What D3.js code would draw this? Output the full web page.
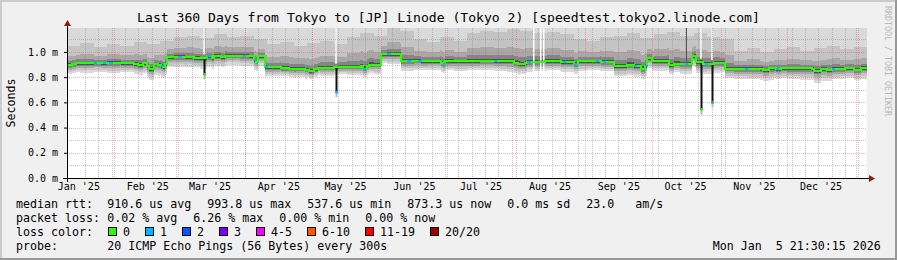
<!DOCTYPE html>
<html>
<head>
<meta charset="utf-8">
<script src="https://cdn.jsdelivr.net/npm/d3@7"></script>
<style>
  body { margin: 0; background: #f0f0f0; }
  svg text { font-family: "DejaVu Sans Mono", monospace; white-space: pre; }
</style>
</head>
<body>
<svg id="chart" width="897" height="260"></svg>
<script>
/* DATA */
const title = "Last 360 Days from Tokyo to [JP] Linode (Tokyo 2) [speedtest.tokyo2.linode.com]"
const startTime = "2025-01-10T21:30"
const endTime = "2026-01-05T21:30"

// median rtt (ms), step changes
const medianDates = ["2025-01-10","2025-01-13","2025-01-15","2025-01-26","2025-01-29","2025-02-04","2025-02-10","2025-02-12",
  "2025-02-14","2025-02-16","2025-02-17","2025-02-19","2025-02-21","2025-02-22","2025-02-23","2025-02-24","2025-02-25",
  "2025-03-05","2025-03-09","2025-03-13","2025-03-15","2025-03-17","2025-03-18","2025-03-21","2025-03-23","2025-04-03",
  "2025-04-05","2025-04-06","2025-04-07","2025-04-10","2025-04-17","2025-04-21","2025-04-24","2025-04-28","2025-04-30",
  "2025-05-02","2025-05-04","2025-05-11","2025-05-13","2025-05-23","2025-05-24","2025-05-26","2025-05-27","2025-06-01",
  "2025-06-10","2025-06-19","2025-06-28","2025-06-29","2025-06-30","2025-07-11","2025-07-25","2025-07-31","2025-08-02",
  "2025-08-05","2025-08-06","2025-08-14","2025-08-21","2025-08-27","2025-08-29","2025-09-08","2025-09-14","2025-09-20",
  "2025-09-23","2025-09-26","2025-09-28","2025-09-29","2025-10-01","2025-10-09","2025-10-11","2025-10-19","2025-10-21",
  "2025-10-24","2025-10-29","2025-11-03","2025-11-20","2025-11-23","2025-11-26","2025-11-28","2025-12-12","2025-12-13",
  "2025-12-16","2025-12-19","2025-12-21","2025-12-27","2025-12-31","2026-01-03"]
const medianMs = [0.898,0.906,0.913,0.910,0.916,0.912,0.905,0.897,
  0.910,0.885,0.868,0.905,0.900,0.889,0.880,0.905,0.962,
  0.958,0.952,0.950,0.965,0.952,0.968,0.957,0.970,0.968,
  0.935,0.923,0.965,0.878,0.872,0.865,0.868,0.858,0.847,
  0.862,0.875,0.877,0.882,0.886,0.868,0.890,0.900,0.984,
  0.931,0.928,0.915,0.907,0.928,0.929,0.927,0.915,0.905,
  0.912,0.922,0.925,0.918,0.907,0.925,0.922,0.889,0.900,
  0.890,0.868,0.890,0.952,0.926,0.894,0.907,0.968,0.917,
  0.907,0.915,0.868,0.858,0.870,0.862,0.870,0.868,0.850,
  0.866,0.855,0.868,0.872,0.860,0.873]

// smoke spread, one sample every 6 days from the start
const smokeHigh = [1.05,1.07,1.04,1.06,1.05,1.08,1.06,1.09,1.12,1.13,
  1.11,1.14,1.12,1.13,1.10,1.06,1.08,1.05,1.07,1.09,
  1.06,1.12,1.15,1.13,1.19,1.17,1.10,1.08,1.12,1.09,
  1.15,1.17,1.16,1.18,1.17,1.15,1.16,1.14,1.10,1.09,
  1.12,1.13,1.15,1.11,1.14,1.16,1.13,1.15,1.12,1.10,
  1.01,1.03,1.00,1.02,1.04,1.01,1.03,1.05,1.02,1.04]
const smokeLowDepth = [0.075,0.08,0.07,0.085,0.075,0.08,0.09,0.085,0.08,0.075,
  0.085,0.08,0.07,0.08,0.075,0.07,0.065,0.07,0.06,0.065,
  0.06,0.065,0.07,0.075,0.08,0.08,0.075,0.07,0.075,0.08,
  0.075,0.07,0.08,0.085,0.08,0.075,0.07,0.075,0.08,0.07,
  0.075,0.08,0.085,0.08,0.075,0.07,0.08,0.085,0.08,0.075,
  0.08,0.085,0.09,0.08,0.085,0.09,0.095,0.085,0.08,0.085]

// single low median samples
const spikeDates = ["2025-03-13T12:00","2025-05-12T00:00","2025-10-23T00:00","2025-10-28T00:00"]
const spikeMs = [0.817,0.677,0.538,0.595]
const spikeLoss = [0,1,0,1]

// samples with 1/20 lost
const loss1Dates = ["2025-01-23","2025-01-27","2025-01-30","2025-02-22","2025-03-02","2025-03-15","2025-03-31","2025-04-05",
  "2025-04-10","2025-05-24","2025-06-04","2025-06-13","2025-06-18","2025-06-29","2025-07-22","2025-08-06","2025-08-22",
  "2025-08-27","2025-09-06","2025-09-09","2025-09-23","2025-09-28","2025-10-16","2025-10-25","2025-11-12","2025-11-26",
  "2025-12-21"]

// missing data columns and a single high outlier
const gapDates = ["2025-08-08T14:00","2025-08-11T18:00","2025-08-13T02:00"]
const outlierDates = ["2025-10-16T10:00"]
const outlierMs = [1.19]

const yTicks = [0, 0.2, 0.4, 0.6, 0.8, 1.0]

const lossLabels = ["0","1","2","3","4-5","6-10","11-19","20/20"]
const lossColors = ["#26ff00","#00b8ff","#0059ff","#7e00ff","#ff00ff","#ff5500","#ff0000","#a10000"]

const rttStats = ["910.6 us avg","993.8 us max","537.6 us min","873.3 us now","0.0 ms sd","23.0   am/s"]
const lossStats = ["0.02 % avg","6.26 % max","0.00 % min","0.00 % now"]
const probeText = "20 ICMP Echo Pings (56 Bytes) every 300s"
const stampText = "Mon Jan  5 21:30:15 2026"

/* SETUP */
const W = 897, H = 260
const plot = {left: 67, right: 867, top: 28, bottom: 178}
const yMax = 1.19

const parseDay = d3.timeParse("%Y-%m-%d")
const parseTime = d3.timeParse("%Y-%m-%dT%H:%M")
const toDate = s => s.length > 10 ? parseTime(s) : parseDay(s)

const start = toDate(startTime), end = toDate(endTime)

const x = d3.scaleTime().domain([start, end]).range([plot.left, plot.right])
const y = d3.scaleLinear().domain([0, yMax]).range([plot.bottom, plot.top])

const svg = d3.select("#chart")

// background + 3d frame
svg.append("rect").attr("width", W).attr("height", H).attr("fill", "#f0f0f0")
svg.append("rect").attr("width", W).attr("height", 2).attr("fill", "#cbcbcb")
svg.append("rect").attr("width", 2).attr("height", H).attr("fill", "#cbcbcb")
svg.append("rect").attr("y", H - 2).attr("width", W).attr("height", 2).attr("fill", "#999")
svg.append("rect").attr("x", W - 2).attr("width", 2).attr("height", H).attr("fill", "#999")

svg.append("rect")
  .attr("x", plot.left).attr("y", plot.top)
  .attr("width", plot.right - plot.left).attr("height", plot.bottom - plot.top)
  .attr("fill", "#fff")

svg.append("clipPath").attr("id", "clip")
  .append("rect")
  .attr("x", plot.left).attr("y", plot.top)
  .attr("width", plot.right - plot.left).attr("height", plot.bottom - plot.top)

/* SERIES LOOKUPS */
const medT = medianDates.map(toDate)
const smokeT = smokeHigh.map((_, i) => d3.timeDay.offset(start, 6 * i))
const stepAt = (times, vals) => t => vals[Math.max(0, d3.bisectRight(times, t) - 1)]
const medAt = stepAt(medT, medianMs)
const hiAt = stepAt(smokeT, smokeHigh)
const loAt = stepAt(smokeT, smokeLowDepth)

let times = medT.filter(t => t > start).concat(smokeT, [end])
times = Array.from(new Set(times.map(t => +t))).sort((a, b) => a - b).map(t => new Date(t))
const rows = times.map(t => ({t, m: medAt(t), h: hiAt(t), l: loAt(t)}))

const g = svg.append("g").attr("clip-path", "url(#clip)")

/* SMOKE */
const bands = [
  {c: "#d9d9d9", lo: d => d.m - d.l,        hi: d => yMax},
  {c: "#c4c4c4", lo: d => d.m - 0.75 * d.l, hi: d => d.h},
  {c: "#a8a8a8", lo: d => d.m - 0.5 * d.l,  hi: d => d.m + 0.45 * (d.h - d.m)},
  {c: "#858585", lo: d => d.m - 0.3 * d.l,  hi: d => d.m + 0.2 * (d.h - d.m)},
  {c: "#505050", lo: d => d.m - 0.17 * d.l, hi: d => d.m + 0.07 * (d.h - d.m)}
]
bands.forEach(b => {
  const area = d3.area()
    .curve(d3.curveStepAfter)
    .x(d => x(d.t))
    .y0(d => y(b.lo(d)))
    .y1(d => y(b.hi(d)))
  g.append("path").datum(rows)
    .attr("d", area)
    .attr("fill", b.c)
    .attr("shape-rendering", "crispEdges")
})

// gaps (no data)
g.selectAll(".gap").data(gapDates.map(toDate)).join("rect")
  .attr("x", d => Math.round(x(d))).attr("width", 1.5)
  .attr("y", plot.top)
  .attr("height", d => y(medAt(d) - loAt(d)) - plot.top)
  .attr("fill", "#fff")

// lighter column above the low spikes
g.selectAll(".lite").data(spikeDates.map(toDate)).join("rect")
  .attr("x", d => Math.round(x(d)) - 1).attr("width", 2)
  .attr("y", plot.top)
  .attr("height", d => y(medAt(d) + 0.03) - plot.top)
  .attr("fill", "#ececec")

// high outlier
g.selectAll(".out").data(outlierDates.map(toDate)).join("line")
  .attr("x1", d => Math.round(x(d)) + 0.5).attr("x2", d => Math.round(x(d)) + 0.5)
  .attr("y1", (d, i) => y(outlierMs[i]))
  .attr("y2", d => y(medAt(d)))
  .attr("stroke", "#555").attr("stroke-width", 1)

/* GRID */
const grid = svg.append("g").attr("shape-rendering", "crispEdges")
const minorY = d3.range(1, 12, 2).map(v => v / 10)
const minorX = []
for (let d = new Date(2025, 0, 19); d < end; d = d3.timeDay.offset(d, 6)) minorX.push(d)
const monthLines = d3.timeMonth.range(d3.timeMonth.ceil(start), end)

grid.selectAll(".mx").data(minorX).join("line")
  .attr("x1", d => Math.round(x(d)) + 0.5).attr("x2", d => Math.round(x(d)) + 0.5)
  .attr("y1", plot.top).attr("y2", plot.bottom)
  .attr("stroke", "rgba(128,128,128,0.45)").attr("stroke-dasharray", "1,1")
grid.selectAll(".my").data(minorY).join("line")
  .attr("x1", plot.left).attr("x2", plot.right)
  .attr("y1", d => Math.round(y(d)) + 0.5).attr("y2", d => Math.round(y(d)) + 0.5)
  .attr("stroke", "rgba(128,128,128,0.45)").attr("stroke-dasharray", "1,1")
grid.selectAll(".Mx").data(monthLines).join("line")
  .attr("x1", d => Math.round(x(d)) + 0.5).attr("x2", d => Math.round(x(d)) + 0.5)
  .attr("y1", plot.top).attr("y2", plot.bottom)
  .attr("stroke", "rgba(255,80,80,0.45)").attr("stroke-dasharray", "1,1")
grid.selectAll(".My").data(yTicks.slice(1)).join("line")
  .attr("x1", plot.left).attr("x2", plot.right)
  .attr("y1", d => Math.round(y(d)) + 0.5).attr("y2", d => Math.round(y(d)) + 0.5)
  .attr("stroke", "rgba(255,80,80,0.45)").attr("stroke-dasharray", "1,1")

/* MEDIAN */
const g2 = svg.append("g").attr("clip-path", "url(#clip)")

// low spikes
spikeDates.map(toDate).forEach((d, i) => {
  const sx = Math.round(x(d)) + 0.5
  g2.append("line")
    .attr("x1", sx).attr("x2", sx)
    .attr("y1", y(spikeMs[i])).attr("y2", y(spikeMs[i] - 0.035))
    .attr("stroke", "#bbb").attr("stroke-width", 2)
  g2.append("line")
    .attr("x1", sx).attr("x2", sx)
    .attr("y1", y(medAt(d))).attr("y2", y(spikeMs[i]))
    .attr("stroke", "#111").attr("stroke-width", 2)
  g2.append("rect")
    .attr("x", sx - 1).attr("width", 2)
    .attr("y", y(spikeMs[i]) - 2).attr("height", 3)
    .attr("fill", lossColors[spikeLoss[i]])
})

const medLine = d3.line()
  .curve(d3.curveStepAfter)
  .x(d => x(d.t))
  .y(d => y(d.m))
g2.append("path").datum(rows)
  .attr("d", medLine)
  .attr("fill", "none")
  .attr("stroke", lossColors[0])
  .attr("stroke-width", 2)
  .attr("shape-rendering", "crispEdges")

g2.selectAll(".l1").data(loss1Dates.map(toDate)).join("line")
  .attr("x1", d => x(d)).attr("x2", d => x(d3.timeHour.offset(d, 36)))
  .attr("y1", d => y(medAt(d))).attr("y2", d => y(medAt(d)))
  .attr("stroke", lossColors[1]).attr("stroke-width", 2)
  .attr("shape-rendering", "crispEdges")

/* AXES */
const axisY = svg.append("g")
  .attr("transform", `translate(${plot.left},0)`)
  .call(d3.axisLeft(y).tickValues(yTicks).tickFormat(d => d.toFixed(1) + " m").tickSize(3).tickPadding(6))
axisY.select(".domain").remove()
axisY.selectAll("text").attr("font-size", 10).attr("fill", "#000")
  .style("font-family", "'DejaVu Sans Mono', monospace")
axisY.selectAll("line").attr("stroke", "#000")

const monthLabels = d3.timeMonth.range(d3.timeMonth.floor(start), end)
  .map(d => d3.timeDay.offset(d, 15))
  .filter(d => d < end)
const axisX = svg.append("g")
  .attr("transform", `translate(0,${plot.bottom})`)
  .call(d3.axisBottom(x).tickValues(monthLabels).tickFormat(d3.timeFormat("%b '%y")).tickSize(0).tickPadding(5))
axisX.select(".domain").remove()
axisX.selectAll("text").attr("font-size", 10).attr("fill", "#000")
  .style("font-family", "'DejaVu Sans Mono', monospace")

svg.append("line")
  .attr("x1", plot.left - 4).attr("x2", plot.right + 2)
  .attr("y1", plot.bottom + 0.5).attr("y2", plot.bottom + 0.5)
  .attr("stroke", "#000").attr("shape-rendering", "crispEdges")
svg.append("line")
  .attr("x1", plot.left + 0.5).attr("x2", plot.left + 0.5)
  .attr("y1", plot.bottom + 4).attr("y2", plot.top - 2)
  .attr("stroke", "#000").attr("shape-rendering", "crispEdges")
svg.append("path")
  .attr("d", `M${plot.right + 2},${plot.bottom - 3}L${plot.right + 8},${plot.bottom + 0.5}L${plot.right + 2},${plot.bottom + 4}Z`)
  .attr("fill", "#8b1a1a")
svg.append("path")
  .attr("d", `M${plot.left - 3},${plot.top - 2}L${plot.left + 0.5},${plot.top - 8}L${plot.left + 4},${plot.top - 2}Z`)
  .attr("fill", "#8b1a1a")

/* TEXT */
svg.append("text")
  .attr("x", W / 2).attr("y", 22)
  .attr("text-anchor", "middle")
  .attr("font-size", 13.1)
  .text(title)

svg.append("text")
  .attr("transform", `translate(14.5,${(plot.top + plot.bottom) / 2}) rotate(-90)`)
  .attr("text-anchor", "middle")
  .attr("font-size", 11.6)
  .text("Seconds")

svg.append("text")
  .attr("transform", "translate(885,6) rotate(90)")
  .attr("font-size", 8.3)
  .attr("fill", "#b8b8b8")
  .text("RRDTOOL / TOBI OETIKER")

/* LEGEND */
const cw = 7, fs = 11.63
const rowY = [208, 222, 236, 250]
const legend = svg.append("g").attr("font-size", fs).attr("fill", "#000")

function pieceRow(yy, head, pieces) {
  legend.append("text").attr("x", 16).attr("y", yy).text(head)
  let cx = 107.3
  pieces.forEach(p => {
    legend.append("text").attr("x", cx).attr("y", yy).text(p)
    cx += p.length * cw + 16
  })
}
pieceRow(rowY[0], "median rtt:", rttStats)
pieceRow(rowY[1], "packet loss:", lossStats)

legend.append("text").attr("x", 16).attr("y", rowY[2]).text("loss color:")
let bx = 108
lossLabels.forEach((lab, i) => {
  legend.append("rect")
    .attr("x", bx + 0.5).attr("y", rowY[2] - 8.5)
    .attr("width", 8).attr("height", 8)
    .attr("fill", lossColors[i]).attr("stroke", "#000")
  legend.append("text").attr("x", bx + 15).attr("y", rowY[2]).text(lab)
  bx += 15 + lab.length * cw + 15
})

legend.append("text").attr("x", 16).attr("y", rowY[3]).text("probe:")
legend.append("text").attr("x", 107.3).attr("y", rowY[3]).text(probeText)
legend.append("text").attr("x", 880.7).attr("y", rowY[3]).attr("text-anchor", "end").text(stampText)
</script>
</body>
</html>
